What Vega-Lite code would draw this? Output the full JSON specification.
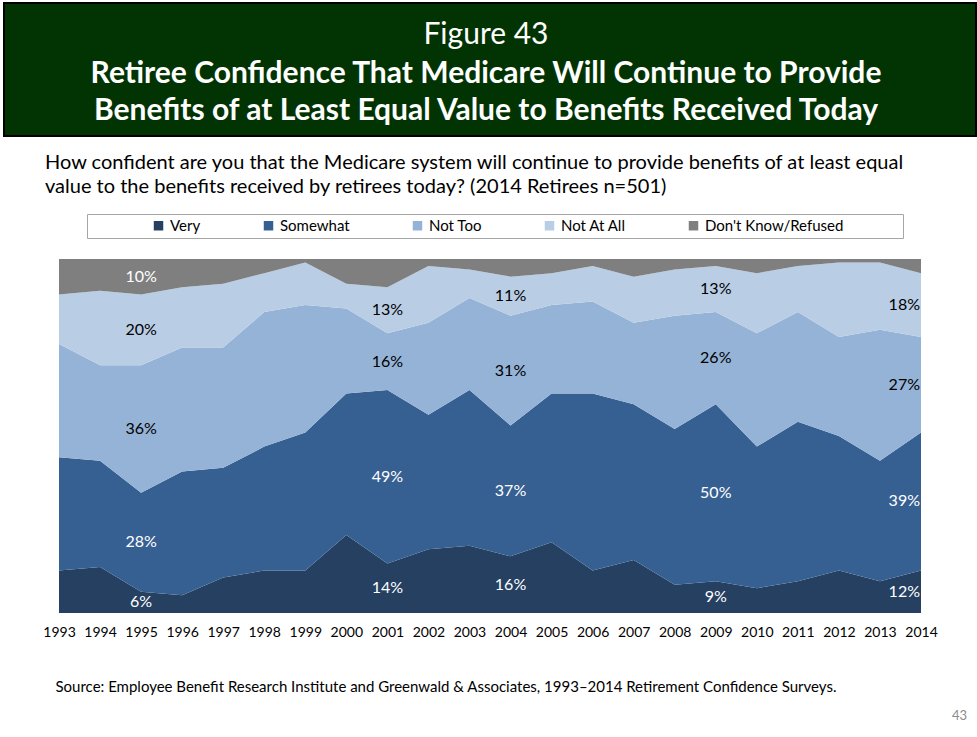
{
  "$schema": "https://vega.github.io/schema/vega-lite/v6.json",
  "background": "white",
  "padding": {"left": 3, "top": 2, "right": 2, "bottom": 0},
  "config": {"font": "Lato", "view": {"stroke": null}},
  "spacing": 123,
  "center": true,
  "bounds": "flush",
  "resolve": {"scale": {"color": "independent"}, "legend": {"color": "independent"}},
  "vconcat": [
    {
      "width": 972,
      "height": 133,
      "view": {"fill": "#023302", "stroke": "black", "strokeWidth": 2},
      "data": {"values": [{"line": "Figure 43"}]},
      "layer": [
        {"mark": {"type": "text", "text": "Figure 43", "fontSize": 30, "fontWeight": "normal", "color": "white", "baseline": "middle", "align": "center", "dy": -35, "dx": -4}},
        {"mark": {"type": "text", "text": "Retiree Confidence That Medicare Will Continue to Provide", "fontSize": 30, "fontWeight": "bold", "color": "white", "baseline": "middle", "align": "center", "dy": 4.5, "dx": -4}},
        {"mark": {"type": "text", "text": "Benefits of at Least Equal Value to Benefits Received Today", "fontSize": 30, "fontWeight": "bold", "color": "white", "baseline": "middle", "align": "center", "dy": 41.5, "dx": -4}}
      ]
    },
    {
      "width": 862,
      "height": 354,
      "title": {
        "text": ["How confident are you that the Medicare system will continue to provide benefits of at least equal", "value to the benefits received by retirees today? (2014 Retirees n=501)"],
        "anchor": "start", "frame": "group", "dx": -14, "fontSize": 20, "fontWeight": "normal", "lineHeight": 24, "color": "black", "offset": 17
      },
      "data": {"values": [
        {"year":1993,"cat":"Very","value":12},{"year":1993,"cat":"Somewhat","value":32},{"year":1993,"cat":"Not Too","value":32},{"year":1993,"cat":"Not At All","value":14},{"year":1993,"cat":"Don't Know/Refused","value":10},
        {"year":1994,"cat":"Very","value":13},{"year":1994,"cat":"Somewhat","value":30},{"year":1994,"cat":"Not Too","value":27},{"year":1994,"cat":"Not At All","value":21},{"year":1994,"cat":"Don't Know/Refused","value":9},
        {"year":1995,"cat":"Very","value":6},{"year":1995,"cat":"Somewhat","value":28},{"year":1995,"cat":"Not Too","value":36},{"year":1995,"cat":"Not At All","value":20},{"year":1995,"cat":"Don't Know/Refused","value":10},
        {"year":1996,"cat":"Very","value":5},{"year":1996,"cat":"Somewhat","value":35},{"year":1996,"cat":"Not Too","value":35},{"year":1996,"cat":"Not At All","value":17},{"year":1996,"cat":"Don't Know/Refused","value":8},
        {"year":1997,"cat":"Very","value":10},{"year":1997,"cat":"Somewhat","value":31},{"year":1997,"cat":"Not Too","value":34},{"year":1997,"cat":"Not At All","value":18},{"year":1997,"cat":"Don't Know/Refused","value":7},
        {"year":1998,"cat":"Very","value":12},{"year":1998,"cat":"Somewhat","value":35},{"year":1998,"cat":"Not Too","value":38},{"year":1998,"cat":"Not At All","value":11},{"year":1998,"cat":"Don't Know/Refused","value":4},
        {"year":1999,"cat":"Very","value":12},{"year":1999,"cat":"Somewhat","value":39},{"year":1999,"cat":"Not Too","value":36},{"year":1999,"cat":"Not At All","value":12},{"year":1999,"cat":"Don't Know/Refused","value":1},
        {"year":2000,"cat":"Very","value":22},{"year":2000,"cat":"Somewhat","value":40},{"year":2000,"cat":"Not Too","value":24},{"year":2000,"cat":"Not At All","value":7},{"year":2000,"cat":"Don't Know/Refused","value":7},
        {"year":2001,"cat":"Very","value":14},{"year":2001,"cat":"Somewhat","value":49},{"year":2001,"cat":"Not Too","value":16},{"year":2001,"cat":"Not At All","value":13},{"year":2001,"cat":"Don't Know/Refused","value":8},
        {"year":2002,"cat":"Very","value":18},{"year":2002,"cat":"Somewhat","value":38},{"year":2002,"cat":"Not Too","value":26},{"year":2002,"cat":"Not At All","value":16},{"year":2002,"cat":"Don't Know/Refused","value":2},
        {"year":2003,"cat":"Very","value":19},{"year":2003,"cat":"Somewhat","value":44},{"year":2003,"cat":"Not Too","value":26},{"year":2003,"cat":"Not At All","value":8},{"year":2003,"cat":"Don't Know/Refused","value":3},
        {"year":2004,"cat":"Very","value":16},{"year":2004,"cat":"Somewhat","value":37},{"year":2004,"cat":"Not Too","value":31},{"year":2004,"cat":"Not At All","value":11},{"year":2004,"cat":"Don't Know/Refused","value":5},
        {"year":2005,"cat":"Very","value":20},{"year":2005,"cat":"Somewhat","value":42},{"year":2005,"cat":"Not Too","value":25},{"year":2005,"cat":"Not At All","value":9},{"year":2005,"cat":"Don't Know/Refused","value":4},
        {"year":2006,"cat":"Very","value":12},{"year":2006,"cat":"Somewhat","value":50},{"year":2006,"cat":"Not Too","value":26},{"year":2006,"cat":"Not At All","value":10},{"year":2006,"cat":"Don't Know/Refused","value":2},
        {"year":2007,"cat":"Very","value":15},{"year":2007,"cat":"Somewhat","value":44},{"year":2007,"cat":"Not Too","value":23},{"year":2007,"cat":"Not At All","value":13},{"year":2007,"cat":"Don't Know/Refused","value":5},
        {"year":2008,"cat":"Very","value":8},{"year":2008,"cat":"Somewhat","value":44},{"year":2008,"cat":"Not Too","value":32},{"year":2008,"cat":"Not At All","value":13},{"year":2008,"cat":"Don't Know/Refused","value":3},
        {"year":2009,"cat":"Very","value":9},{"year":2009,"cat":"Somewhat","value":50},{"year":2009,"cat":"Not Too","value":26},{"year":2009,"cat":"Not At All","value":13},{"year":2009,"cat":"Don't Know/Refused","value":2},
        {"year":2010,"cat":"Very","value":7},{"year":2010,"cat":"Somewhat","value":40},{"year":2010,"cat":"Not Too","value":32},{"year":2010,"cat":"Not At All","value":17},{"year":2010,"cat":"Don't Know/Refused","value":4},
        {"year":2011,"cat":"Very","value":9},{"year":2011,"cat":"Somewhat","value":45},{"year":2011,"cat":"Not Too","value":31},{"year":2011,"cat":"Not At All","value":13},{"year":2011,"cat":"Don't Know/Refused","value":2},
        {"year":2012,"cat":"Very","value":12},{"year":2012,"cat":"Somewhat","value":38},{"year":2012,"cat":"Not Too","value":28},{"year":2012,"cat":"Not At All","value":21},{"year":2012,"cat":"Don't Know/Refused","value":1},
        {"year":2013,"cat":"Very","value":9},{"year":2013,"cat":"Somewhat","value":34},{"year":2013,"cat":"Not Too","value":37},{"year":2013,"cat":"Not At All","value":19},{"year":2013,"cat":"Don't Know/Refused","value":1},
        {"year":2014,"cat":"Very","value":12},{"year":2014,"cat":"Somewhat","value":39},{"year":2014,"cat":"Not Too","value":27},{"year":2014,"cat":"Not At All","value":18},{"year":2014,"cat":"Don't Know/Refused","value":4}
      ]},
      "transform": [
        {"calculate": "datum.cat == 'Very' ? 0 : datum.cat == 'Somewhat' ? 1 : datum.cat == 'Not Too' ? 2 : datum.cat == 'Not At All' ? 3 : 4", "as": "ord"},
        {"stack": "value", "groupby": ["year"], "sort": [{"field": "ord", "order": "ascending"}], "as": ["y0", "y1"]},
        {"calculate": "(datum.y0 + datum.y1) / 2", "as": "ymid"},
        {"calculate": "datum.value + '%'", "as": "lbl"}
      ],
      "layer": [
        {
          "mark": {"type": "area", "interpolate": "linear"},
          "encoding": {
            "x": {
              "field": "year", "type": "quantitative",
              "scale": {"domain": [1993, 2014], "nice": false, "zero": false},
              "axis": {
                "values": [1993,1994,1995,1996,1997,1998,1999,2000,2001,2002,2003,2004,2005,2006,2007,2008,2009,2010,2011,2012,2013,2014],
                "format": "d", "ticks": false, "domain": false, "grid": false,
                "labelFontSize": 14, "labelColor": "black", "labelPadding": 12, "labelFlush": false, "labelOverlap": false,
                "title": "Source:  Employee Benefit Research Institute and Greenwald & Associates, 1993–2014 Retirement Confidence Surveys.",
                "titleAnchor": "start", "titleAlign": "left", "titleX": -4, "titleFontSize": 15, "titleFontWeight": "normal", "titleColor": "black", "titlePadding": 40
              }
            },
            "y": {"field": "y0", "type": "quantitative", "scale": {"domain": [0, 100], "nice": false}, "axis": null},
            "y2": {"field": "y1"},
            "color": {
              "field": "cat", "type": "nominal",
              "scale": {"domain": ["Very", "Somewhat", "Not Too", "Not At All", "Don't Know/Refused"], "range": ["#254061", "#376092", "#95B3D7", "#B9CDE5", "#7F7F7F"]},
              "legend": {
                "orient": "none", "legendX": 28, "legendY": -45, "direction": "horizontal",
                "title": "000000", "titleColor": "white", "titleOrient": "left", "titlePadding": 7, "titleFontSize": 15, "titleFontWeight": "normal",
                "strokeColor": "#A6A6A6", "fillColor": "white", "padding": 4,
                "symbolType": "square", "symbolSize": 90, "symbolStrokeWidth": 0,
                "labelFontSize": 15, "labelColor": "black", "labelOffset": 4, "columnPadding": 60, "labelLimit": 400,
                "labelExpr": "indexof(datum.label, 'Refused') >= 0 ? datum.label + '\u2800\u2800\u2800\u2800\u2800' : datum.label"
              }
            }
          }
        },
        {
          "transform": [{"filter": "datum.year == 1995 || ((datum.year == 2001 || datum.year == 2004 || datum.year == 2009) && datum.ord < 4)"}],
          "mark": {"type": "text", "fontSize": 16, "baseline": "middle", "align": "center"},
          "encoding": {
            "x": {"field": "year", "type": "quantitative"},
            "y": {"field": "ymid", "type": "quantitative", "axis": null},
            "text": {"field": "lbl"},
            "fill": {"condition": {"test": "datum.cat == 'Not Too' || datum.cat == 'Not At All'", "value": "black"}, "value": "white"}
          }
        },
        {
          "transform": [{"filter": "datum.year == 2014 && datum.ord < 4"}],
          "mark": {"type": "text", "fontSize": 16, "baseline": "middle", "align": "right", "dx": -1},
          "encoding": {
            "x": {"field": "year", "type": "quantitative"},
            "y": {"field": "ymid", "type": "quantitative", "axis": null},
            "text": {"field": "lbl"},
            "fill": {"condition": {"test": "datum.cat == 'Not Too' || datum.cat == 'Not At All'", "value": "black"}, "value": "white"}
          }
        }
      ]
    },
    {
      "width": 972,
      "height": 1,
      "title": {"text": "43", "anchor": "end", "frame": "group", "fontSize": 13, "fontWeight": "normal", "color": "#8C8C8C", "offset": 8, "dx": -9},
      "data": {"values": [{"line": "43"}]},
      "mark": {"type": "text", "text": " "}
    }
  ]
}
